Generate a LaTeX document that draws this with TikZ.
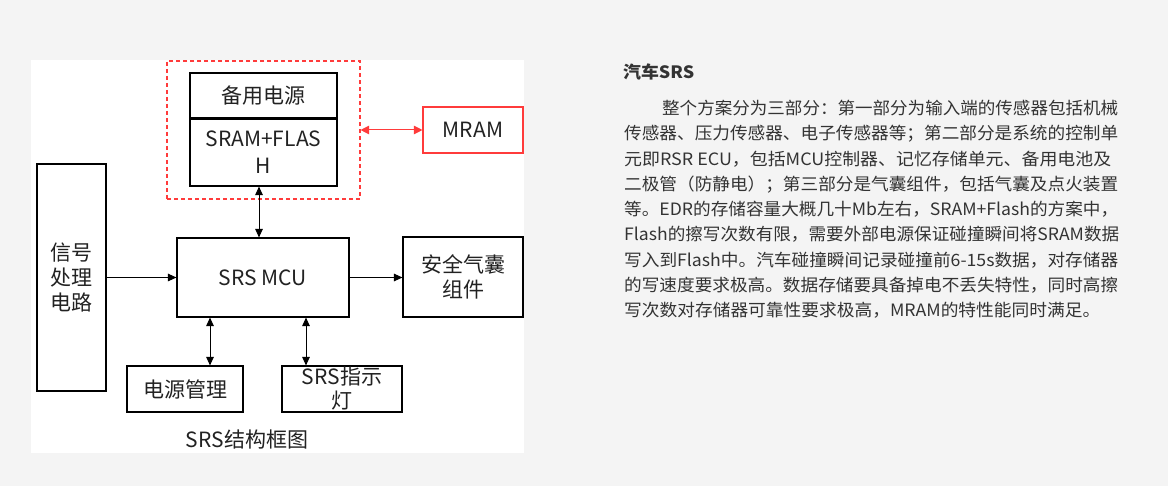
\documentclass[tikz,border=0pt]{standalone}
\usepackage{fontspec}
\setmainfont{Noto Sans CJK SC}
\usepackage{graphicx}
\usetikzlibrary{arrows.meta,calc}
\definecolor{bg}{HTML}{F4F4F4}
\definecolor{txt}{HTML}{333333}
\definecolor{dtxt}{HTML}{222222}
\definecolor{srsred}{HTML}{FF3B3B}
\newcommand\pline[2]{\resizebox{#1}{\height}{#2}}
\begin{document}
\begin{tikzpicture}[x=1pt,y=-1pt,
  box/.style={draw=black, line width=1.1pt, inner sep=0pt, align=center, text=dtxt,
    font=\fontsize{21}{25.5}\selectfont},
  redbox/.style={box, draw=srsred},
  dashbox/.style={draw=srsred, line width=1.1pt, dash pattern=on 4pt off 3pt, inner sep=0pt},
  mytip/.tip={Triangle[length=8.5pt,width=7.5pt]},
  arr/.style={line width=1pt, -mytip},
  biarr/.style={line width=1pt, mytip-mytip},
  redarr/.style={draw=srsred, line width=1pt, {Triangle[length=8.5pt,width=8.5pt]}-{Triangle[length=8.5pt,width=8.5pt]}},
  para/.style={inner sep=0pt, text=txt, font=\fontsize{17}{20}\selectfont, anchor=base west},
  captext/.style={inner sep=0pt, text=dtxt, font=\fontsize{21}{25}\selectfont}
]
\useasboundingbox (0,0) rectangle (1168,486);
\fill[bg] (0,0) rectangle (1168,486);
\fill[white] (31,60) rectangle (524,453);

% diagram
\node[dashbox, minimum width=193pt, minimum height=138pt] (dash) at (263.5,130) {};
\node[box, minimum width=147pt, minimum height=45pt] (backup) at (263.5,95.5) {备用电源};
\node[box, minimum width=147pt, minimum height=68pt] (sram) at (263.5,152) {SRAM+FLAS\\[1pt]H};
\draw[line width=2pt] (backup.south west) -- (backup.south east);
\node[redbox, minimum width=100pt, minimum height=46pt] (mram) at (473,130) {MRAM};
\node[box, minimum width=69pt, minimum height=227pt] (signal) at (71.5,277.5) {信号\\处理\\电路};
\node[box, minimum width=172pt, minimum height=79pt] (mcu) at (263,277.5) {SRS MCU};
\node[box, minimum width=120pt, minimum height=80pt] (airbag) at (463,277) {安全气囊\\组件};
\node[box, minimum width=116pt, minimum height=46pt] (power) at (185,389) {电源管理};
\node[box, minimum width=120pt, minimum height=46pt, font=\fontsize{21}{24}\selectfont] (lamp) at (342,389) {SRS指示\\灯};
\node[captext] (caption) at (247,440) {SRS结构框图};

\coordinate (a1) at ([xshift=-4.5pt]sram.south);
\coordinate (b1) at ([xshift=25pt]power.north);
\coordinate (c1) at ([xshift=-36pt]lamp.north);
\draw[biarr] (a1) -- (a1 |- mcu.north);
\draw[redarr] (dash.east) -- (mram.west);
\draw[arr] (signal.east |- mcu.west) -- (mcu.west);
\draw[arr] (mcu.east) -- (mcu.east -| airbag.west);
\draw[biarr] (b1 |- mcu.south) -- (b1);
\draw[biarr] (c1 |- mcu.south) -- (c1);

% text
\node[inner sep=0pt, text=txt, anchor=base west, font=\fontsize{17}{20}\selectfont\bfseries] (title) at (623,78.5) {\pline{71pt}{汽车SRS}};
\node[para] (l1) at (662,114.5) {\pline{456pt}{整个方案分为三部分：第一部分为输入端的传感器包括机械}};
\node[para] (l2) at (624,139.8) {\pline{494pt}{传感器、压力传感器、电子传感器等；第二部分是系统的控制单}};
\node[para] (l3) at (624,165.1) {\pline{487pt}{元即RSR ECU，包括MCU控制器、记忆存储单元、备用电池及}};
\node[para] (l4) at (624,190.4) {\pline{494pt}{二极管（防静电）；第三部分是气囊组件，包括气囊及点火装置}};
\node[para] (l5) at (624,215.7) {\pline{494pt}{等。EDR的存储容量大概几十Mb左右，SRAM+Flash的方案中，}};
\node[para] (l6) at (624,241.0) {\pline{495pt}{Flash的擦写次数有限，需要外部电源保证碰撞瞬间将SRAM数据}};
\node[para] (l7) at (624,266.3) {\pline{494pt}{写入到Flash中。汽车碰撞瞬间记录碰撞前6-15s数据，对存储器}};
\node[para] (l8) at (624,291.6) {\pline{494pt}{的写速度要求极高。数据存储要具备掉电不丢失特性，同时高擦}};
\node[para] (l9) at (624,316.9) {\pline{476pt}{写次数对存储器可靠性要求极高，MRAM的特性能同时满足。}};
\end{tikzpicture}
\end{document}
